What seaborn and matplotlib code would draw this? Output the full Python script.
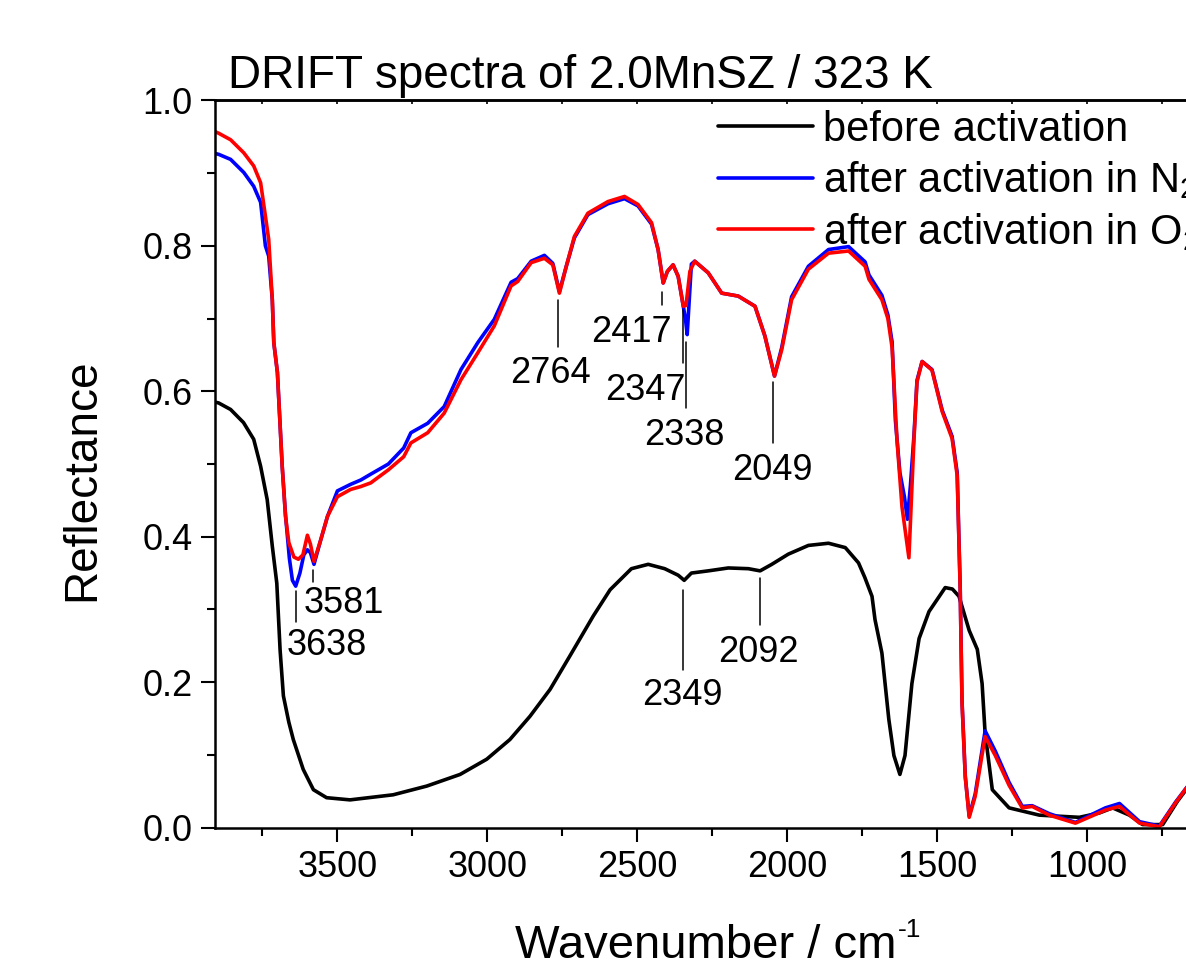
import numpy as np
import pandas as pd
import matplotlib
matplotlib.use("Agg")
import matplotlib.pyplot as plt
from matplotlib.ticker import MultipleLocator
import seaborn as sns

# ---------------- data ----------------
wn_before = [3907, 3896, 3856, 3813, 3779, 3756, 3734, 3717, 3702, 3691,
             3680, 3662, 3647, 3614, 3580, 3536, 3458, 3314, 3202, 3091,
             3002, 2925, 2858, 2791, 2725, 2647, 2591, 2520, 2464, 2409,
             2364, 2344, 2320, 2264, 2197, 2130, 2091, 2052, 1997, 1930,
             1863, 1807, 1763, 1742, 1718, 1708, 1685, 1662, 1645, 1625,
             1608, 1585, 1561, 1528, 1474, 1450, 1428, 1394, 1367, 1351,
             1341, 1317, 1261, 1160, 1027, 960, 916, 860, 816, 749,
             700, 660]
r_before = [0.585, 0.584, 0.575, 0.557, 0.534, 0.497, 0.451, 0.387, 0.336, 0.244,
            0.181, 0.145, 0.121, 0.080, 0.052, 0.041, 0.038, 0.045, 0.057, 0.073,
            0.094, 0.121, 0.153, 0.190, 0.236, 0.291, 0.327, 0.356, 0.362, 0.356,
            0.347, 0.340, 0.350, 0.353, 0.357, 0.356, 0.353, 0.362, 0.376, 0.388,
            0.391, 0.385, 0.364, 0.344, 0.318, 0.286, 0.240, 0.149, 0.099, 0.073,
            0.099, 0.198, 0.260, 0.297, 0.330, 0.328, 0.318, 0.271, 0.245, 0.198,
            0.130, 0.052, 0.027, 0.017, 0.014, 0.020, 0.027, 0.017, 0.004, 0.004,
            0.036, 0.058]

wn_n2 = [3907, 3896, 3856, 3812, 3779, 3756, 3740, 3729, 3717, 3712,
         3700, 3684, 3673, 3660, 3650, 3639, 3625, 3612, 3600, 3590,
         3578, 3556, 3533, 3500, 3456, 3422, 3389, 3330, 3279, 3255,
         3199, 3144, 3088, 3032, 2977, 2921, 2899, 2854, 2810, 2782,
         2760, 2737, 2710, 2665, 2598, 2543, 2498, 2453, 2431, 2414,
         2400, 2381, 2364, 2347, 2340, 2334, 2328, 2320, 2309, 2264,
         2219, 2164, 2108, 2075, 2043, 2019, 1986, 1930, 1863, 1796,
         1741, 1728, 1685, 1665, 1651, 1640, 1625, 1610, 1600, 1590,
         1578, 1568, 1551, 1518, 1484, 1451, 1434, 1424, 1418, 1407,
         1394, 1374, 1341, 1307, 1261, 1217, 1184, 1127, 1040, 940,
         893, 826, 760, 706, 660]
r_n2 = [0.927, 0.926, 0.919, 0.901, 0.882, 0.860, 0.800, 0.786, 0.726, 0.667,
        0.626, 0.497, 0.430, 0.370, 0.340, 0.332, 0.350, 0.375, 0.382, 0.378,
        0.362, 0.395, 0.428, 0.463, 0.472, 0.478, 0.486, 0.500, 0.522, 0.543,
        0.556, 0.579, 0.630, 0.667, 0.699, 0.750, 0.755, 0.779, 0.787, 0.776,
        0.737, 0.772, 0.811, 0.843, 0.858, 0.865, 0.855, 0.830, 0.795, 0.749,
        0.765, 0.774, 0.758, 0.717, 0.700, 0.678, 0.720, 0.775, 0.779, 0.763,
        0.735, 0.731, 0.717, 0.676, 0.621, 0.660, 0.730, 0.772, 0.795, 0.799,
        0.778, 0.760, 0.732, 0.705, 0.668, 0.560, 0.488, 0.455, 0.424, 0.470,
        0.540, 0.615, 0.641, 0.630, 0.574, 0.538, 0.488, 0.330, 0.175, 0.070,
        0.016, 0.046, 0.133, 0.105, 0.062, 0.029, 0.030, 0.019, 0.007, 0.027,
        0.033, 0.008, 0.002, 0.035, 0.060]

wn_o2 = [3907, 3896, 3856, 3812, 3779, 3756, 3740, 3729, 3717, 3712,
         3700, 3684, 3673, 3662, 3645, 3630, 3615, 3600, 3590, 3578,
         3556, 3533, 3500, 3456, 3422, 3389, 3330, 3279, 3255, 3199,
         3144, 3088, 3032, 2977, 2921, 2899, 2854, 2810, 2782, 2760,
         2737, 2710, 2665, 2598, 2543, 2498, 2453, 2431, 2414, 2400,
         2381, 2364, 2347, 2338, 2325, 2309, 2264, 2219, 2164, 2108,
         2075, 2043, 2019, 1986, 1930, 1863, 1796, 1741, 1728, 1685,
         1665, 1651, 1635, 1618, 1595, 1578, 1568, 1551, 1518, 1484,
         1451, 1434, 1424, 1418, 1407, 1394, 1374, 1341, 1307, 1261,
         1217, 1184, 1127, 1040, 940, 893, 826, 760, 706, 660]
r_o2 = [0.957, 0.955, 0.946, 0.928, 0.910, 0.887, 0.841, 0.809, 0.726, 0.667,
        0.626, 0.497, 0.428, 0.392, 0.372, 0.369, 0.375, 0.402, 0.390, 0.366,
        0.395, 0.428, 0.455, 0.465, 0.469, 0.474, 0.492, 0.510, 0.529, 0.543,
        0.570, 0.616, 0.653, 0.690, 0.745, 0.751, 0.777, 0.783, 0.774, 0.735,
        0.772, 0.813, 0.845, 0.861, 0.868, 0.857, 0.832, 0.795, 0.749, 0.765,
        0.774, 0.758, 0.717, 0.718, 0.765, 0.779, 0.763, 0.735, 0.731, 0.717,
        0.676, 0.621, 0.657, 0.726, 0.768, 0.790, 0.793, 0.772, 0.754, 0.726,
        0.700, 0.660, 0.535, 0.441, 0.371, 0.535, 0.613, 0.641, 0.629, 0.572,
        0.535, 0.484, 0.327, 0.172, 0.069, 0.014, 0.043, 0.125, 0.099, 0.058,
        0.027, 0.029, 0.017, 0.006, 0.024, 0.029, 0.006, 0.001, 0.034, 0.060]

series_labels = ["before activation",
                 "after activation in N$_2$",
                 "after activation in O$_2$"]
series_colors = ["#000000", "#0000FF", "#FF0000"]

# peak annotations: label, line x, line y0, line y1, text x, text baseline y
peak_labels = ["3638", "3581", "2764", "2417", "2347", "2338", "2049", "2349", "2092"]
peak_line_x = [3638, 3581, 2764, 2417, 2347, 2338, 2049, 2349, 2092]
peak_line_y0 = [0.325, 0.354, 0.726, 0.737, 0.712, 0.668, 0.613, 0.327, 0.343]
peak_line_y1 = [0.282, 0.338, 0.661, 0.719, 0.639, 0.577, 0.529, 0.217, 0.279]
peak_text_x = [3535, 3478, 2791, 2519, 2475, 2345, 2050, 2350, 2098]
peak_text_y = [0.237, 0.295, 0.611, 0.668, 0.588, 0.526, 0.478, 0.168, 0.228]

title = "DRIFT spectra of 2.0MnSZ / 323 K"
x_label = "Wavenumber / cm"
x_label_sup = "-1"
y_label = "Reflectance"

# ---------------- styling ----------------
sns.set_style("ticks")
plt.rcParams["font.family"] = ["Liberation Sans", "DejaVu Sans"]
plt.rcParams["mathtext.fontset"] = "custom"
plt.rcParams["mathtext.rm"] = "Liberation Sans"
plt.rcParams["mathtext.default"] = "regular"
for k in ["text.color", "axes.labelcolor", "xtick.color", "ytick.color",
          "axes.edgecolor"]:
    plt.rcParams[k] = "black"

W, H = 1186, 963
fig = plt.figure(figsize=(W / 100, H / 100), dpi=100)
ax = fig.add_axes([215 / W, (H - 827.5) / H, (1267.4 - 215) / W, (827.5 - 100.5) / H])

dfs = [pd.DataFrame({"wn": wn_before, "R": r_before}),
       pd.DataFrame({"wn": wn_n2, "R": r_n2}),
       pd.DataFrame({"wn": wn_o2, "R": r_o2})]
for df, lab, col in zip(dfs, series_labels, series_colors):
    sns.lineplot(data=df, x="wn", y="R", color=col, lw=2.6, label=lab,
                 ax=ax, sort=False, estimator=None)

ax.set_xlim(3908, 400)
ax.set_ylim(0, 1.0)
ax.xaxis.set_major_locator(MultipleLocator(500))
ax.xaxis.set_minor_locator(MultipleLocator(250))
ax.yaxis.set_major_locator(MultipleLocator(0.2))
ax.yaxis.set_minor_locator(MultipleLocator(0.1))
ax.yaxis.set_major_formatter(matplotlib.ticker.FormatStrFormatter("%.1f"))
ax.tick_params(which="major", direction="out", length=10, width=1.5,
               labelsize=26, pad=6)
ax.tick_params(which="minor", direction="out", length=5.5, width=1.5)
for s in ["left", "bottom", "top"]:
    ax.spines[s].set_linewidth(1.8)
ax.spines["right"].set_visible(False)
ax.set_xlabel("")
ax.set_ylabel("")

sec = ax.secondary_xaxis("top")
sec.xaxis.set_major_locator(MultipleLocator(250))
sec.tick_params(direction="in", length=3, width=1.2, labeltop=False)
sec.spines["top"].set_linewidth(1.8)

# annotations
for lab, lx, y0, y1, tx, ty in zip(peak_labels, peak_line_x, peak_line_y0,
                                   peak_line_y1, peak_text_x, peak_text_y):
    ax.plot([lx, lx], [y0, y1], color="black", lw=1.1)
    ax.text(tx, ty, lab, ha="center", va="baseline", fontsize=26)

# legend
leg = ax.legend(loc="upper left", bbox_to_anchor=(718 / W, 1 - 110 / H),
                bbox_transform=fig.transFigure, frameon=False, fontsize=30,
                handlelength=2.28, handletextpad=0.25, labelspacing=0.23,
                borderpad=0, borderaxespad=0)
for line in leg.get_lines():
    line.set_linewidth(2.6)

fig.text(228 / W, 1 - 88 / H, title, fontsize=33, ha="left", va="baseline")
fig.text(82 / W, 1 - 480 / H, y_label, fontsize=33, rotation=90,
         ha="center", va="center")
xl = fig.text(515 / W, 1 - 958 / H, x_label, fontsize=34,
              ha="left", va="baseline")
ax.annotate(x_label_sup, xy=(1.0, 1.0), xycoords=xl, xytext=(1, 4),
            textcoords="offset points", fontsize=19, ha="left", va="top",
            annotation_clip=False)

fig.savefig("out.png", dpi=100)
